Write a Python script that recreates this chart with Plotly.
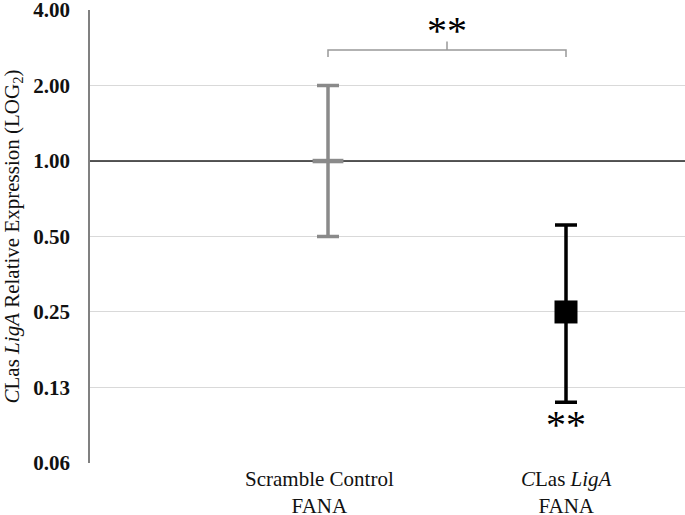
import plotly.graph_objects as go

# Data
categories = ["Scramble Control<br>FANA", "<i>C</i>Las <i>LigA</i><br>FANA"]
cat_pos = [1, 2]
values = [1.0, 0.25]
err_plus = [1.0, 0.306]
err_minus = [0.5, 0.141]
y_tickvals = [0.0625, 0.125, 0.25, 0.5, 1, 2, 4]
y_ticktext = ["0.06", "0.13", "0.25", "0.50", "1.00", "2.00", "4.00"]

FONT = "Liberation Serif, Times New Roman, serif"
GRAY = "#8a8a8a"

fig = go.Figure()

# reference line at 1.00
fig.add_trace(go.Scatter(x=[0, 2.5], y=[1, 1], mode="lines",
                         line=dict(color="#222222", width=1.5),
                         hoverinfo="skip", showlegend=False))

# Scramble control
fig.add_trace(go.Scatter(
    x=[cat_pos[0]], y=[values[0]], mode="markers",
    marker=dict(symbol="line-ew-open", size=22, color=GRAY, line=dict(color=GRAY, width=4.5)),
    error_y=dict(type="data", symmetric=False, array=[err_plus[0]], arrayminus=[err_minus[0]],
                 color=GRAY, thickness=3.5, width=11),
    showlegend=False))

# CLas LigA
fig.add_trace(go.Scatter(
    x=[cat_pos[1]], y=[values[1]], mode="markers",
    marker=dict(symbol="square", size=23, color="black"),
    error_y=dict(type="data", symmetric=False, array=[err_plus[1]], arrayminus=[err_minus[1]],
                 color="black", thickness=3.5, width=11),
    showlegend=False))

# significance bracket
fig.add_trace(go.Scatter(
    x=[1, 1, 1.5, 1.5, 1.5, 2, 2],
    y=[2.6, 2.77, 2.77, 3.0, 2.77, 2.77, 2.6],
    mode="lines", line=dict(color="#999999", width=1.5),
    hoverinfo="skip", showlegend=False))

# stars
fig.add_trace(go.Scatter(
    x=[1.5, 2], y=[3.22, 0.086], mode="text", text=["**", "**"],
    textfont=dict(family=FONT, size=40, color="black"),
    hoverinfo="skip", showlegend=False))

# category labels
label_shift = [-9, 0]
for pos, lab, dx in zip(cat_pos, categories, label_shift):
    fig.add_annotation(x=pos, xref="x", y=0, yref="paper", yanchor="top",
                       yshift=-2, xshift=dx, text=lab, showarrow=False,
                       font=dict(family=FONT, size=21, color="#111111"))

fig.update_layout(
    width=685, height=515,
    margin=dict(l=90, r=0, t=10, b=52),
    paper_bgcolor="white", plot_bgcolor="white",
    font=dict(family=FONT, color="black"),
    xaxis=dict(range=[0, 2.5], tickvals=cat_pos, showticklabels=False,
               showgrid=False, zeroline=False, showline=False, automargin=False),
    yaxis=dict(type="log", range=[-1.2045, 0.6025],
               tickvals=y_tickvals, ticktext=y_ticktext,
               showgrid=True, gridcolor="#d9d9d9", gridwidth=1,
               showline=True, linecolor="#808080", linewidth=1.5,
               zeroline=False, ticks="", ticklabelstandoff=14, automargin=False,
               ticklabeloverflow="allow",
               tickfont=dict(family=FONT, size=21, color="#111111", weight="bold"),
               title=dict(text="<i>C</i>Las <i>LigA</i> Relative Expression (LOG<sub>2</sub>)",
                          font=dict(family=FONT, size=21, color="#111111"), standoff=10)),
)

fig.write_html("out.html", config={"displayModeBar": False},
               post_script="document.body.style.margin='0';")
